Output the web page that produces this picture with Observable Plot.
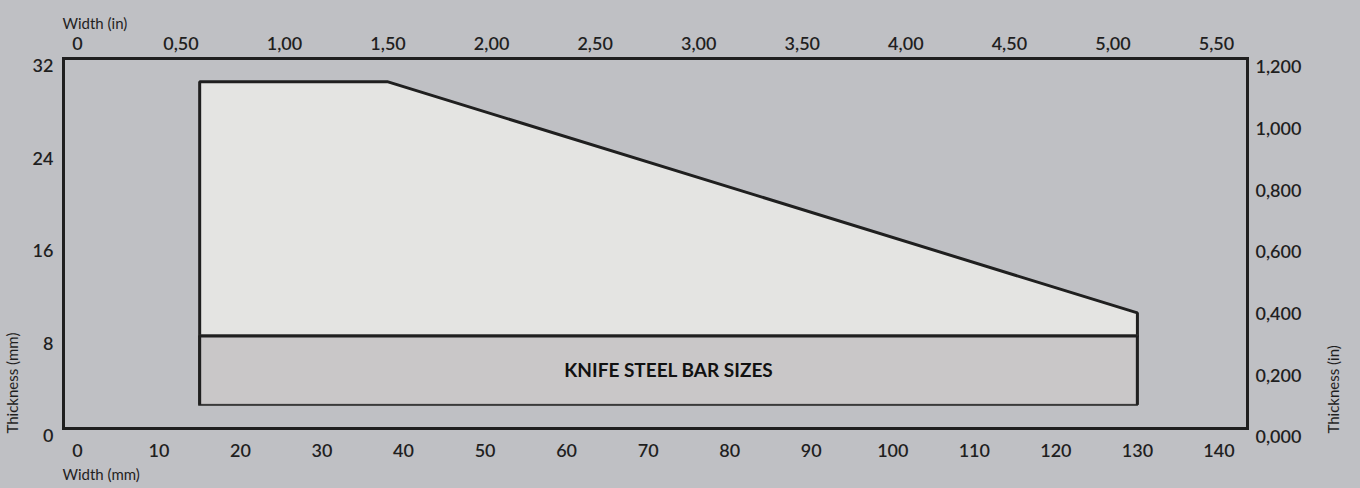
<!DOCTYPE html>
<html>
<head>
<meta charset="utf-8">
<script src="https://cdn.jsdelivr.net/npm/d3@7"></script>
<script src="https://cdn.jsdelivr.net/npm/@observablehq/plot@0.6"></script>
<style>
  html, body { margin: 0; padding: 0; background: #bfc0c4; }
  #chart svg { display: block; font-family: Lato, "Open Sans", sans-serif; font-variant-numeric: oldstyle-nums; }
</style>
</head>
<body>
<div id="chart"></div>
<script>
// Light region: maximum thickness (mm) by width (mm)
const profileWidthMm = [15, 38, 130];
const profileMaxThicknessMm = [30, 30, 10];
const profileMinThicknessMm = [8, 8, 8];
// Darker bar band
const barWidthMm = [15, 130];
const barThicknessMm = [2, 8];
const barLabel = "KNIFE STEEL BAR SIZES";

// Tick values
const xTicksMm = [0, 10, 20, 30, 40, 50, 60, 70, 80, 90, 100, 110, 120, 130, 140];
const xTicksIn = [0, 0.5, 1, 1.5, 2, 2.5, 3, 3.5, 4, 4.5, 5, 5.5];
const yTicksMm = [0, 8, 16, 24, 32];
const yTicksIn = [0, 0.2, 0.4, 0.6, 0.8, 1.0, 1.2];

const MM_PER_IN = 25.4;
const Y_MAX_MM = 32, Y_MAX_IN = 1.2; // right axis spans the same height

const comma = s => s.replace(".", ",");
const topFmt = d => { const v = d / MM_PER_IN; return v === 0 ? "0" : comma(d3.format(".2f")(v)); };
const rightFmt = d => comma(d3.format(".3f")(d / Y_MAX_MM * Y_MAX_IN));

const profile = profileWidthMm.map((w, i) => ({w, lo: profileMinThicknessMm[i], hi: profileMaxThicknessMm[i]}));
const outline = [
  {w: profileWidthMm[0], t: profileMinThicknessMm[0]},
  ...profile.map(d => ({w: d.w, t: d.hi})),
  {w: profileWidthMm[profileWidthMm.length - 1], t: profileMinThicknessMm[profileMinThicknessMm.length - 1]}
];

const ink = "#1f1f1f";
const tickFont = {fontSize: 18, fontWeight: 600, fill: ink};

const chart = Plot.plot({
  width: 1360,
  height: 488,
  marginLeft: 63,
  marginRight: 113,
  marginTop: 58,
  marginBottom: 60,
  style: {background: "#bfc0c4", color: ink, overflow: "visible"},
  x: {domain: [-1.7, 143.5]},
  y: {domain: [0, 32]},
  marks: [
    Plot.areaY(profile, {x: "w", y1: "lo", y2: "hi", fill: "#e4e4e2"}),
    Plot.line(outline, {x: "w", y: "t", stroke: ink, strokeWidth: 3, strokeLinejoin: "miter"}),
    Plot.rect([{x1: barWidthMm[0], x2: barWidthMm[1], y1: barThicknessMm[0], y2: barThicknessMm[1]}],
      {x1: "x1", x2: "x2", y1: "y1", y2: "y2", fill: "#c9c7c8", stroke: "#3a3a3a", strokeWidth: 2}),
    Plot.ruleY([barThicknessMm[1]], {x1: barWidthMm[0], x2: barWidthMm[1], stroke: ink, strokeWidth: 3}),
    Plot.ruleX([barWidthMm[0], barWidthMm[1]], {y1: barThicknessMm[0], y2: barThicknessMm[1], stroke: ink, strokeWidth: 3}),
    Plot.text([barLabel], {x: (barWidthMm[0] + barWidthMm[1]) / 2, y: (barThicknessMm[0] + barThicknessMm[1]) / 2,
      fontSize: 19, fontWeight: 700, fill: "#111", fontFamily: "Lato, sans-serif"}),
    Plot.frame({stroke: ink, strokeWidth: 3}),
    // bottom axis (mm)
    Plot.axisX(xTicksMm, {anchor: "bottom", tickSize: 0, tickPadding: 16, label: null, ...tickFont}),
    // top axis (in)
    Plot.axisX(xTicksIn.map(v => v * MM_PER_IN), {anchor: "top", tickSize: 0, tickPadding: 9, label: null, tickFormat: topFmt, ...tickFont}),
    // left axis (mm)
    Plot.axisY(yTicksMm, {anchor: "left", tickSize: 0, tickPadding: 10, label: null, dy: 8, ...tickFont}),
    // right axis (in)
    Plot.axisY(yTicksIn.map(v => v / Y_MAX_IN * Y_MAX_MM), {anchor: "right", tickSize: 0, tickPadding: 8, label: null, dy: 9, tickFormat: rightFmt, ...tickFont}),
    // axis titles
    Plot.text(["Width (in)"], {frameAnchor: "top-left", text: d => d, textAnchor: "start", dx: -1, dy: -40, fontSize: 15, fill: ink}),
    Plot.text(["Width (mm)"], {frameAnchor: "bottom-left", text: d => d, textAnchor: "start", dx: -1, dy: 51, fontSize: 15, fill: ink}),
    Plot.text(["Thickness (mm)"], {frameAnchor: "bottom-left", text: d => d, textAnchor: "start", rotate: -90, dx: -46, dy: 5, fontSize: 15, fill: ink}),
    Plot.text(["Thickness (in)"], {frameAnchor: "bottom-right", text: d => d, textAnchor: "start", rotate: -90, dx: 91, dy: 5, fontSize: 15, fill: ink})
  ]
});
document.getElementById("chart").appendChild(chart);
</script>
</body>
</html>
